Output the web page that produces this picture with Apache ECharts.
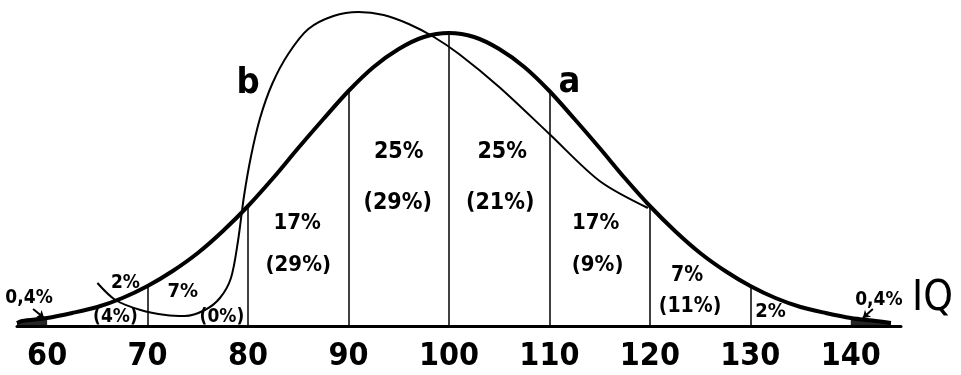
<!DOCTYPE html>
<html>
<head>
<meta charset="utf-8">
<script src="https://cdn.jsdelivr.net/npm/echarts@6/dist/echarts.min.js"></script>
<style>
  html, body { margin: 0; padding: 0; background: #fff; }
  #chart { width: 961px; height: 375px; }
</style>
</head>
<body>
<div id="chart"></div>
<script>
// curve a: normal IQ distribution (height units)
const iqA = [57, 57.5, 60, 62.5, 65, 67.5, 70, 72.5, 75, 77.5, 80, 82.5, 85, 87.5, 90, 92.5, 95, 97.5, 100,
  102.5, 105, 107.5, 110, 112.5, 115, 117.5, 120, 122.5, 125, 127.5, 130, 132.5, 135, 137.5, 140, 142.5, 144]
const densA = [3, 5, 8, 13, 19, 28, 40, 55, 73, 95, 120, 148, 178, 207, 235, 259, 277, 289, 293,
  289, 277, 259, 235, 207, 178, 148, 120, 95, 73, 55, 40, 28, 19, 13, 8, 5, 3]

// curve b: skewed distribution
const iqB = [65.0, 66.8, 69.3, 71.8, 73.7, 75.7, 77.2, 78.3, 79.0, 79.6, 80.3, 81.2, 82.4, 84.0, 86.0, 88.5, 91.0, 93.5, 96.0, 98.5, 101.0, 105.0, 110.0, 115.0, 119.8]
const densB = [43, 26, 16, 11, 10, 16, 28, 48, 85, 130, 170, 208, 242, 272, 297, 310, 314, 311, 302, 289, 272, 239, 192, 145, 118]

// band borders and the shares written in each band
const dividers = [70, 80, 90, 100, 110, 120, 130]
const xTicks = [60, 70, 80, 90, 100, 110, 120, 130, 140]
const sharesA = ['0,4%', '2%', '7%', '17%', '25%', '25%', '17%', '7%', '2%', '0,4%']
const sharesB = ['(4%)', '(0%)', '(29%)', '(29%)', '(21%)', '(9%)', '(11%)']

const chart = echarts.init(document.getElementById('chart'))

const ink = '#000'
const heightAt = x => densA[iqA.indexOf(x)]
const handFont = '"DejaVu Sans Condensed", "DejaVu Sans", sans-serif'
const axisFont = '"Liberation Sans Narrow", "DejaVu Sans Condensed", sans-serif'

// where each text sits (data coords), kept apart from the values
const textSpots = [
  { t: sharesA[0], at: [58.2, 28], size: 19 },
  { t: sharesA[1], at: [67.8, 43], size: 19 },
  { t: sharesA[2], at: [73.5, 34], size: 20 },
  { t: sharesA[3], at: [84.9, 103], size: 22 },
  { t: sharesA[4], at: [95.0, 174], size: 23 },
  { t: sharesA[5], at: [105.3, 174], size: 23 },
  { t: sharesA[6], at: [114.6, 103], size: 22 },
  { t: sharesA[7], at: [123.7, 50], size: 21 },
  { t: sharesA[8], at: [132.0, 14], size: 20 },
  { t: sharesA[9], at: [142.8, 26], size: 19 },
  { t: sharesB[0], at: [66.8, 9], size: 19 },
  { t: sharesB[1], at: [77.4, 9], size: 19 },
  { t: sharesB[2], at: [85.0, 61], size: 22 },
  { t: sharesB[3], at: [94.9, 123], size: 23 },
  { t: sharesB[4], at: [105.1, 123], size: 23 },
  { t: sharesB[5], at: [114.8, 61], size: 22 },
  { t: sharesB[6], at: [124.0, 19], size: 21 },
  { t: 'b', at: [80.0, 242], size: 36 },
  { t: 'a', at: [112.0, 243], size: 36 }
]

// little pointers from the 0,4% notes to the tails
const pointers = [
  [[58.6, 17], [59.7, 8]],
  [[142.2, 17], [141.2, 8]]
]

const option = {
  animation: false,
  grid: { left: 17, right: 60, top: 10, bottom: 49 },
  xAxis: {
    type: 'value',
    min: 57,
    max: 145,
    interval: 1,
    axisLine: { lineStyle: { color: ink, width: 3 } },
    axisTick: { show: false },
    splitLine: { show: false },
    axisLabel: {
      margin: 15,
      color: ink,
      fontSize: 32,
      fontWeight: 'bold',
      fontFamily: axisFont,
      formatter: v => (xTicks.includes(v) ? String(v) : '')
    }
  },
  yAxis: { type: 'value', min: 0, max: 316, show: false },
  series: [
    {
      name: 'a',
      type: 'line',
      data: iqA.map((x, i) => [x, densA[i]]),
      smooth: 0.3,
      symbol: 'none',
      lineStyle: { color: ink, width: 4 },
      markLine: {
        silent: true,
        symbol: 'none',
        label: { show: false },
        lineStyle: { color: ink, width: 1.5, type: 'solid' },
        data: dividers.map(x => [{ coord: [x, 0] }, { coord: [x, heightAt(x)] }])
      }
    },
    {
      name: 'b',
      type: 'line',
      data: iqB.map((x, i) => [x, densB[i]]),
      smooth: 0.3,
      symbol: 'none',
      lineStyle: { color: ink, width: 2 }
    },
    {
      name: 'tails',
      type: 'line',
      data: iqA.map((x, i) => (x <= 60 || x >= 140 ? [x, densA[i]] : [x, null])),
      connectNulls: false,
      symbol: 'none',
      lineStyle: { width: 0 },
      areaStyle: { color: ink, opacity: 0.85 },
      markLine: {
        silent: true,
        symbol: ['none', 'arrow'],
        symbolSize: 7,
        label: { show: false },
        lineStyle: { color: ink, width: 2, type: 'solid' },
        data: pointers.map(p => [{ coord: p[0] }, { coord: p[1] }])
      }
    },
    {
      name: 'texts',
      type: 'scatter',
      silent: true,
      symbolSize: 0,
      itemStyle: { color: ink, opacity: 1 },
      data: textSpots.map(s => ({
        value: s.at,
        label: {
          show: true,
          position: 'inside',
          formatter: s.t,
          color: ink,
          fontSize: s.size,
          fontWeight: 'bold',
          fontFamily: handFont
        }
      }))
    }
  ],
  graphic: [
    {
      type: 'text',
      left: 912,
      top: 278,
      style: {
        text: 'IQ',
        fill: ink,
        fontSize: 42,
        fontFamily: axisFont
      }
    }
  ]
}

chart.setOption(option)
</script>
</body>
</html>
